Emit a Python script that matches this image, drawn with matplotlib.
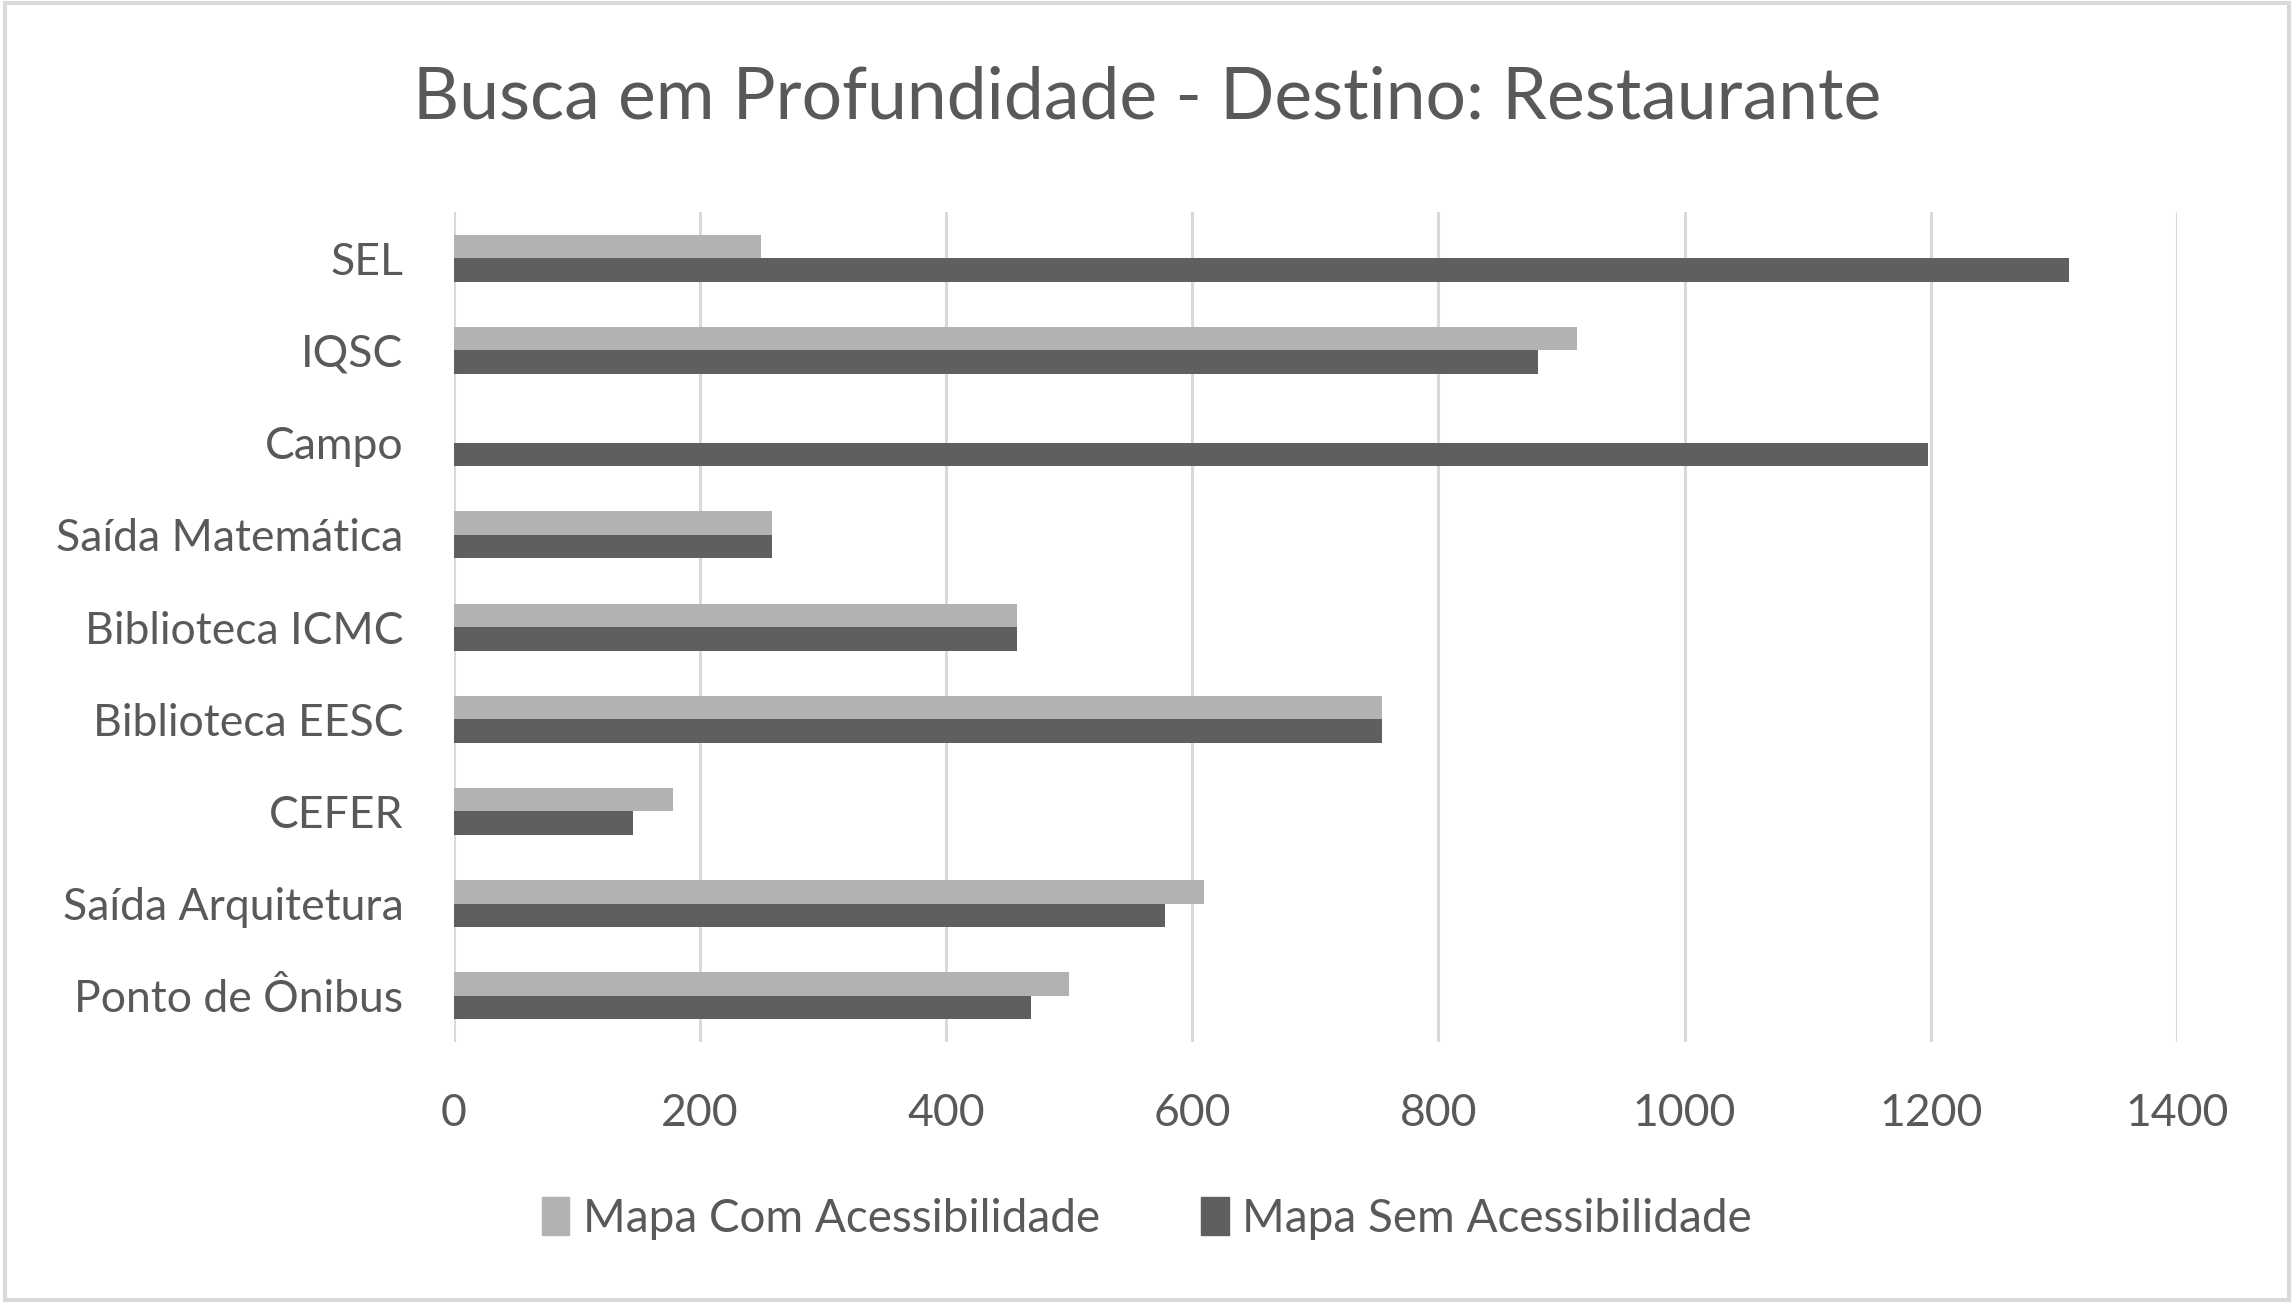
import matplotlib
matplotlib.use("Agg")
import matplotlib.pyplot as plt
from matplotlib.patches import Patch, Rectangle
import numpy as np

plt.rcParams['font.family'] = ['Lato', 'DejaVu Sans']

# categorias de baixo para cima
categorias = ["Ponto de Ônibus", "Saída Arquitetura", "CEFER", "Biblioteca EESC",
              "Biblioteca ICMC", "Saída Matemática", "Campo", "IQSC", "SEL"]
com_acess = [500, 610, 178, 754, 458, 259, 0, 913, 250]
sem_acess = [469, 578, 146, 754, 458, 259, 1198, 881, 1312]
xticks = [0, 200, 400, 600, 800, 1000, 1200, 1400]

cor_clara = '#b2b2b2'
cor_escura = '#5f5f5f'
cor_texto = '#595959'
cor_grade = '#d9d9d9'

fig = plt.figure(figsize=(22.94, 13.05), dpi=100)
ax = fig.add_axes([0.1977, 0.2015, 0.7513, 0.636])

y = np.arange(len(categorias))
h = 0.255
ax.barh(y + h / 2, com_acess, height=h, color=cor_clara, label='Mapa Com Acessibilidade', zorder=3)
ax.barh(y - h / 2, sem_acess, height=h, color=cor_escura, label='Mapa Sem Acessibilidade', zorder=3)

ax.set_xlim(0, 1400)
ax.set_ylim(-0.5, len(categorias) - 0.5)
ax.set_xticks(xticks)
ax.set_yticks(y)
ax.set_yticklabels(categorias)
ax.grid(axis='x', color=cor_grade, linewidth=2.2, zorder=0)
for s in ax.spines.values():
    s.set_visible(False)
ax.tick_params(axis='both', length=0, labelsize=32, labelcolor=cor_texto)
ax.tick_params(axis='x', pad=37)
ax.tick_params(axis='y', pad=36)

fig.text(0.5, 0.925, 'Busca em Profundidade - Destino: Restaurante', ha='center', va='center',
         fontsize=51.5, color=cor_texto)

handles = [Patch(color=cor_clara), Patch(color=cor_escura)]
fig.legend(handles, ['Mapa Com Acessibilidade', 'Mapa Sem Acessibilidade'], loc='center',
           bbox_to_anchor=(0.5, 0.066), ncol=2, frameon=False, fontsize=33,
           labelcolor=cor_texto, handlelength=0.6, handleheight=0.9, handletextpad=0.3,
           columnspacing=2.2)

fig.patches.append(Rectangle((0.002, 0.004), 0.996, 0.994, transform=fig.transFigure,
                             fill=False, edgecolor=cor_grade, linewidth=3))

fig.savefig('out.png', dpi=100, facecolor='white')
